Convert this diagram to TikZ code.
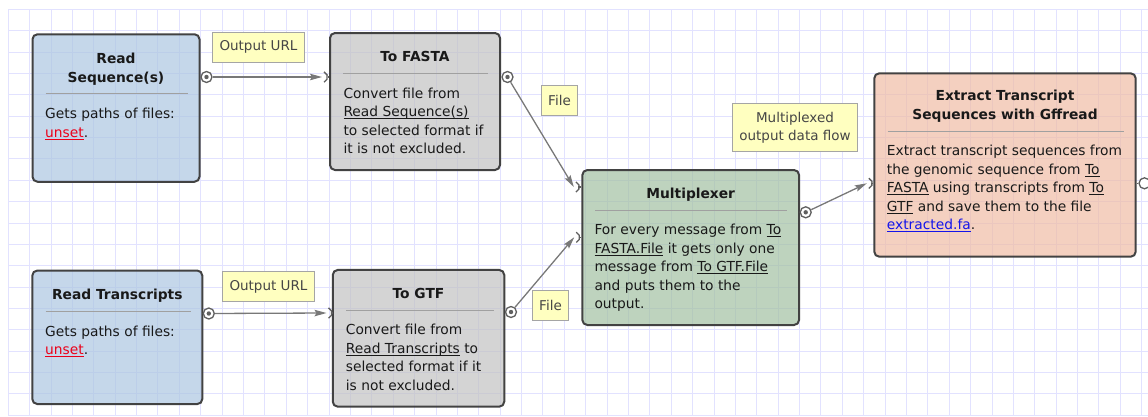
\documentclass[tikz,border=0pt]{standalone}
\usepackage{fontspec}
\setmainfont{DejaVu Sans}
\usetikzlibrary{arrows.meta,calc}

\definecolor{gridblue}{RGB}{226,226,255}
\definecolor{boxline}{RGB}{66,66,66}
\definecolor{sepgray}{RGB}{160,160,160}
\definecolor{readblue}{RGB}{172,198,225}
\definecolor{convgray}{RGB}{194,194,194}
\definecolor{muxgreen}{RGB}{162,192,162}
\definecolor{extsalmon}{RGB}{239,188,165}
\definecolor{tagyellow}{RGB}{255,255,192}
\definecolor{tagline}{RGB}{165,165,165}
\definecolor{tagtext}{RGB}{70,70,70}
\definecolor{textdark}{RGB}{25,25,25}
\definecolor{linkgray}{RGB}{120,120,120}
\definecolor{portgray}{RGB}{95,95,95}
\definecolor{linkred}{RGB}{235,0,25}
\definecolor{linkblue}{RGB}{20,20,235}

\newsavebox{\lnkbox}
\newcommand{\lnk}[1]{\sbox{\lnkbox}{#1}\rlap{\usebox{\lnkbox}}\rule[-2.4pt]{\wd\lnkbox}{0.9pt}}

\begin{document}
\begin{tikzpicture}[x=1pt, y=-1pt,
	every node/.style={font=\fontsize{13.8pt}{18.5pt}\selectfont, text=textdark},
	block/.style={draw=boxline, line width=2pt, rounded corners=5pt, fill opacity=0.7, text opacity=1, inner sep=0pt},
	title/.style={anchor=base, align=center, inner sep=0pt, font=\fontsize{13.8pt}{18.7pt}\selectfont\bfseries},
	body/.style={anchor=base west, align=left, inner sep=0pt},
	sepline/.style={draw=sepgray, line width=1pt},
	tag/.style={draw=tagline, fill=tagyellow, line width=1pt, text=tagtext, inner xsep=6.8pt, inner ysep=0pt, minimum height=30pt, align=center, font=\fontsize{13.5pt}{17.7pt}\selectfont},
	outport/.style={circle, draw=portgray, line width=1.3pt, fill=white, minimum size=11pt, inner sep=0pt,
		path picture={\fill[portgray] (path picture bounding box.center) circle (2.2pt);}},
	openport/.style={circle, draw=portgray, line width=1.3pt, fill=white, minimum size=11pt, inner sep=0pt},
	port/.style={draw=portgray, line width=1.3pt},
	link/.style={draw=linkgray, line width=1.3pt, -{Stealth[length=12pt, width=6.5pt, inset=2pt]}},
	gridline/.style={draw=gridblue, line width=1pt}]

	\useasboundingbox (0,0) rectangle (1148,416);

	% background grid
	\foreach \i in {0,...,53}
		\draw[gridline] ({8.3+21.385*\i},9.3) -- ({8.3+21.385*\i},416);
	\foreach \j in {0,...,19}
		\draw[gridline] (8.3,{9.3+21.37*\j}) -- (1148,{9.3+21.37*\j});

	% Read Sequence(s)  (text nodes sit on the baseline of their last line)
	\node[block, fill=readblue, minimum width=167pt, minimum height=147.5pt] (readseq) at (116,108) {};
	\node[title] (readseqtitle) at (116,82) {Read\\Sequence(s)};
	\draw[sepline] (45.7,93.3) -- (187.7,93.3);
	\node[body] (readseqbody) at (45,137) {Gets paths of files:\\\textcolor{linkred}{\lnk{unset}}.};

	% To FASTA
	\node[block, fill=convgray, minimum width=170pt, minimum height=137pt] (tofasta) at (415,101.5) {};
	\node[title] (tofastatitle) at (415,61.7) {To FASTA};
	\draw[sepline] (343.3,73.3) -- (488.3,73.3);
	\node[body] (tofastabody) at (343.3,153.6) {Convert file from\\\lnk{Read Sequence(s)}\\to selected format if\\it is not excluded.};

	% Read Transcripts
	\node[block, fill=readblue, minimum width=170pt, minimum height=133.5pt] (readtr) at (117.3,337.3) {};
	\node[title] (readtrtitle) at (117.3,299.3) {Read Transcripts};
	\draw[sepline] (45.7,311) -- (190.7,311);
	\node[body] (readtrbody) at (45,354.5) {Gets paths of files:\\\textcolor{linkred}{\lnk{unset}}.};

	% To GTF
	\node[block, fill=convgray, minimum width=171.5pt, minimum height=136.7pt] (togtf) at (418.5,338.3) {};
	\node[title] (togtftitle) at (418.5,298.3) {To GTF};
	\draw[sepline] (346,310) -- (494,310);
	\node[body] (togtfbody) at (345.7,390) {Convert file from\\\lnk{Read Transcripts} to\\selected format if it\\is not excluded.};

	% Multiplexer
	\node[block, fill=muxgreen, minimum width=216.7pt, minimum height=155pt] (mux) at (690.7,247.5) {};
	\node[title] (muxtitle) at (690.7,198.3) {Multiplexer};
	\draw[sepline] (595,210.7) -- (786.7,210.7);
	\node[body] (muxbody) at (594.3,308.7) {For every message from \lnk{To}\\\lnk{FASTA.File} it gets only one\\message from \lnk{To GTF.File}\\and puts them to the\\output.};

	% Extract Transcript Sequences with Gffread
	\node[block, fill=extsalmon, minimum width=261.4pt, minimum height=183.4pt] (extract) at (1005,165) {};
	\node[title] (extracttitle) at (1005,119.4) {Extract Transcript\\Sequences with Gffread};
	\draw[sepline] (887.7,131.7) -- (1124,131.7);
	\node[body] (extractbody) at (886.7,229.7) {Extract transcript sequences from\\the genomic sequence from \lnk{To}\\\lnk{FASTA} using transcripts from \lnk{To}\\\lnk{GTF} and save them to the file\\\textcolor{linkblue}{\lnk{extracted.fa}}.};

	% ports
	\node[outport] (readseqout) at (206.5,77) {};
	\coordinate (tofastain) at (322,77);
	\node[outport] (tofastaout) at (507.5,77) {};
	\node[outport] (readtrout) at (208.8,313.5) {};
	\coordinate (togtfin) at (326.5,313);
	\node[outport] (togtfout) at (511,312) {};
	\coordinate (muxinA) at (573.8,187);
	\coordinate (muxinB) at (574.2,237.3);
	\node[outport] (muxout) at (805.7,212.3) {};
	\coordinate (extractin) at (866.8,183.3);
	\node[openport] (extractout) at (1144.5,183.3) {};
	\draw[port] (extract.east |- extractout) -- (extractout);

	\foreach \p/\b in {tofastain/tofasta, togtfin/togtf, muxinA/mux, muxinB/mux, extractin/extract} {
		\draw[port] (\p) ++(68:5.5) arc (68:-68:5.5);
		\draw[port] (\p) ++(5.5,0) -- (\b.west |- \p);
	}

	% connectors
	\draw[link] (readseqout) -- (tofastain);
	\draw[link] (tofastaout) -- (muxinA);
	\draw[link] (readtrout) -- (togtfin);
	\draw[link] (togtfout) -- (muxinB);
	\draw[link] (muxout) -- (extractin);

	% connector labels
	\node[tag] (urlA) at (258.5,47.3) {Output URL};
	\node[tag] (fileA) at (559.5,100) {File};
	\node[tag] (urlB) at (268.5,286.7) {Output URL};
	\node[tag] (fileB) at (550.5,305.3) {File};
	\node[tag, minimum height=47.7pt, inner xsep=7pt] (muxflow) at (795,127.8) {Multiplexed\\output data flow};
\end{tikzpicture}
\end{document}
